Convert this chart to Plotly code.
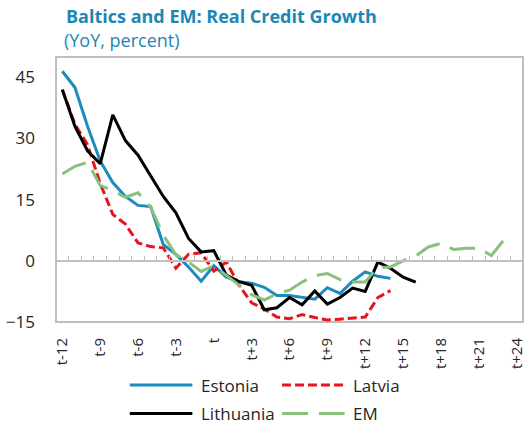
import plotly.graph_objects as go

# periods t-12 ... t+24
cats = ['t-%d' % k for k in range(12, 0, -1)] + ['t'] + ['t+%d' % k for k in range(1, 25)]
tick_cats = cats[::3]

estonia = [46.5, 42.5, 33, 24.5, 19.2, 15.8, 13.6, 13.3, 4, 1.6, -1.5, -5, -1.2,
           -4, -5.1, -5.5, -6.5, -8.5, -8.5, -9, -9.4, -6.6, -8, -5, -2.7, -3.8, -4.3]
latvia = [42, 33.5, 28.5, 19, 11.4, 9, 4.4, 3.5, 3.2, -1.8, 1.6, 2.0, -2.5,
          -0.3, -6, -10.3, -11.8, -13.8, -14.2, -13.2, -13.9, -14.5, -14.3, -14, -13.8, -9, -7.3]
lithuania = [42, 33, 27, 23.8, 35.8, 29.5, 25.9, 21, 15.8, 11.8, 5.5, 2.2, 2.5,
             -3.5, -5.1, -6, -12, -11.5, -9, -10.8, -7.4, -10.6, -9, -6.7, -7.5, -0.3, -1.8, -4, -5.2]
em = [21.3, 23.2, 24.2, 18.5, 17.2, 15.6, 16.7, 13.2, 6.3, 1.5, -0.3, -2.6, -1.2,
      -3.6, -6, -8.3, -9.6, -8.1, -7.2, -5.2, -3.6, -3.1, -4.6, -5.2, -5.2, -1.6, -1.5,
      0, 1.2, 3.4, 4.3, 2.8, 3.1, 3.1, 1.3, 5.2]


def pad(vals):
    return vals + [None] * (len(cats) - len(vals))


series = [
    ("Estonia", estonia, '#1B8CBE', 'solid'),
    ("Latvia", latvia, '#E8141C', '9px,4px'),
    ("Lithuania", lithuania, '#000000', 'solid'),
    ("EM", em, '#88C17C', '26px,11px'),
]

FONT = "Open Sans"
AXCOL = '#BFBFBF'

fig = go.Figure()
for name, vals, col, dash in series:
    fig.add_trace(go.Scatter(x=cats, y=pad(vals), name=name, mode='lines',
                             line=dict(color=col, width=3, dash=dash),
                             showlegend=False, connectgaps=False))

# helper trace so the zero-line axis with its tick marks gets drawn
fig.add_trace(go.Scatter(x=list(range(len(cats))), y=[None] * len(cats),
                         xaxis='x2', showlegend=False, hoverinfo='skip'))

fig.update_layout(
    template='none',
    width=528, height=428,
    margin=dict(l=56, r=5, t=57, b=106),
    paper_bgcolor='white', plot_bgcolor='white',
    font=dict(family=FONT, size=17, color='#262626'),
    xaxis=dict(type='category', categoryarray=cats, categoryorder='array',
               range=[-0.5, len(cats) - 0.5], automargin=False,
               tickmode='array', tickvals=tick_cats, ticktext=tick_cats,
               tickangle=-90, ticks='', showgrid=False, zeroline=False,
               showline=False, ticklabelstandoff=12,
               tickfont=dict(size=15)),
    xaxis2=dict(overlaying='x', anchor='free', position=15 / 65, automargin=False,
                range=[-0.5, len(cats) - 0.5], tickmode='linear', tick0=0.5, dtick=1,
                ticks='inside', ticklen=4, tickwidth=1, tickcolor=AXCOL,
                showticklabels=False, showgrid=False, zeroline=False,
                showline=True, linecolor=AXCOL, linewidth=2),
    yaxis=dict(range=[-15, 50], tickmode='linear', tick0=0, dtick=15, automargin=False,
               showgrid=False, zeroline=False, showline=False, ticks='',
               ticklabelstandoff=20),
)

# plot frame
fig.add_shape(type='rect', xref='paper', yref='paper', x0=0, x1=1, y0=0, y1=1,
              line=dict(color=AXCOL, width=2), layer='below')

# title
fig.add_annotation(text="<b>Baltics and EM: Real Credit Growth</b>", xref='paper', yref='paper',
                   x=0.017, y=1.155, xanchor='left', yanchor='middle', showarrow=False,
                   font=dict(family=FONT, size=18, color='#1C87B5'))
fig.add_annotation(text="(YoY, percent)", xref='paper', yref='paper',
                   x=0.013, y=1.064, xanchor='left', yanchor='middle', showarrow=False,
                   font=dict(family=FONT, size=18, color='#1C87B5'))

# legend, two columns
leg_pos = [(0.158, -0.238), (0.484, -0.238), (0.158, -0.345), (0.484, -0.345)]
for (name, vals, col, dash), (lx, ly) in zip(series, leg_pos):
    fig.add_shape(type='line', xref='paper', yref='paper', x0=lx, x1=lx + 0.134, y0=ly, y1=ly,
                  line=dict(color=col, width=3, dash=dash))
    fig.add_annotation(text=name, xref='paper', yref='paper', x=lx + 0.148, y=ly,
                       xanchor='left', yanchor='middle', showarrow=False,
                       font=dict(family=FONT, size=17, color='#262626'))

# page body has a default 8px margin; drop it so the figure fills the window
fig.write_html("out.html", config={'displayModeBar': False},
               post_script="document.body.style.margin='0';")
